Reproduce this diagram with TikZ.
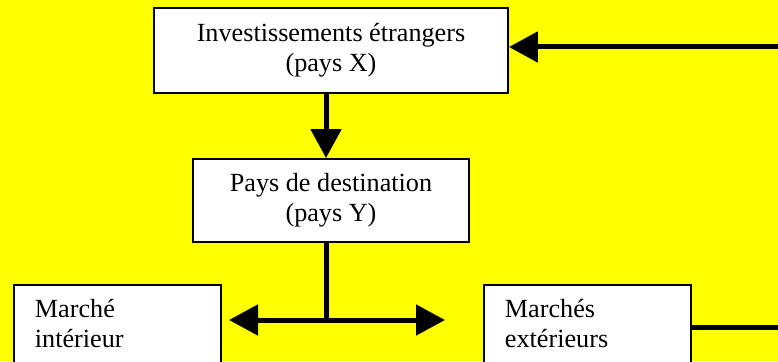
\documentclass[tikz,border=0pt]{standalone}
\usepackage{fontspec}
\setmainfont{Liberation Serif}
\usetikzlibrary{arrows.meta}
\definecolor{bgyellow}{RGB}{255,255,0}
\begin{document}
\begin{tikzpicture}[x=1pt,y=-1pt,
  box/.style={draw=black, line width=1.8pt, fill=white, inner sep=0pt,
    font=\fontsize{26.2}{30}\selectfont},
  openbox/.style={box, anchor=north west, align=left, text width=165pt,
    inner xsep=21pt, inner ysep=14pt},
  conn/.style={draw=black, line width=5pt},
  tip/.style={-{Triangle[length=29pt,width=30pt]}}]
\useasboundingbox (0,0) rectangle (778,361);
\clip (0,0) rectangle (778,361);
\fill[bgyellow] (0,0) rectangle (778,361);
\node[box, minimum width=354pt, minimum height=85pt, align=center] (inv) at (331,50.5)
  {Investissements étrangers\\(pays X)};
\node[box, minimum width=276pt, minimum height=83pt, align=center] (dest) at (331,200.5)
  {Pays de destination\\(pays Y)};
\node[openbox] (int) at (13,284) {Marché\\intérieur\rule[-60pt]{0pt}{60pt}};
\node[openbox] (ext) at (483,284) {Marchés\\extérieurs\rule[-60pt]{0pt}{60pt}};
\coordinate (rtop) at (790,47);
\coordinate (rbot) at (790,327);
\coordinate (j) at (326,320);
\coordinate (tl) at (229,320);
\coordinate (tr) at (445,320);
\draw[conn, tip] (rtop) -- (rtop -| inv.east);
\draw[conn, tip] ([xshift=-5pt]inv.south) -- ([xshift=-5pt]dest.north);
\draw[conn] ([xshift=-5pt]dest.south) -- (j);
\draw[conn, tip] (j) -- (tl);
\draw[conn, tip] (j) -- (tr);
\draw[conn] (rbot -| ext.east) -- (rbot);
\end{tikzpicture}
\end{document}
